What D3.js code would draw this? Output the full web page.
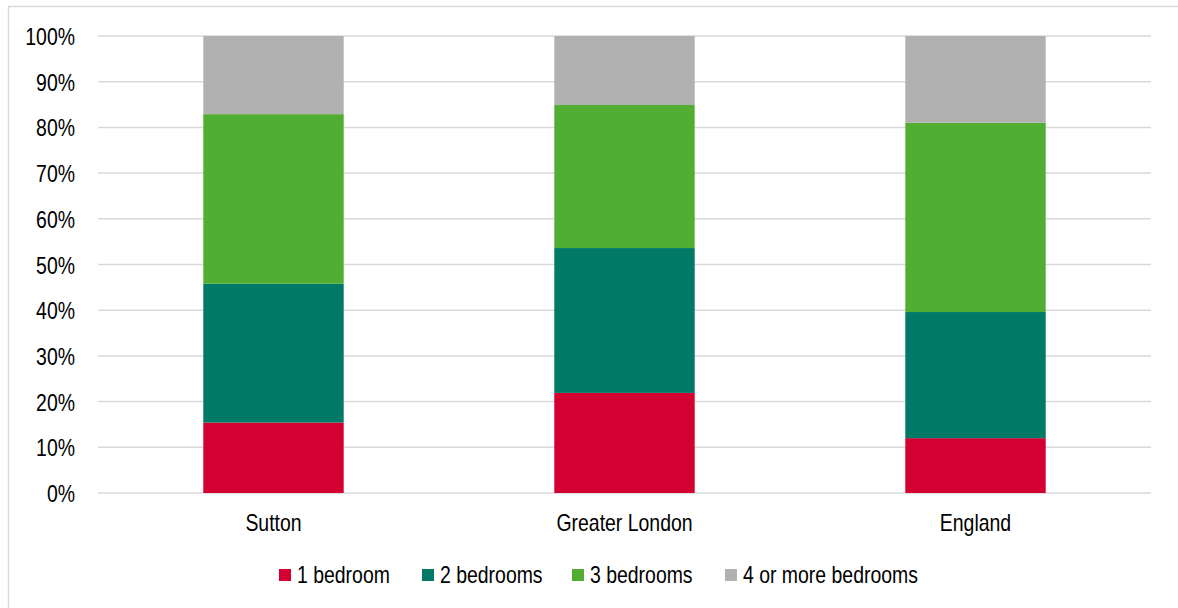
<!DOCTYPE html>
<html><head><meta charset="utf-8">
<script src="https://cdn.jsdelivr.net/npm/d3@7"></script>
<style>
body{margin:0;background:#fff;}
text{font-family:"Liberation Sans",Arial,sans-serif;}
</style></head>
<body><svg id="c" width="1178" height="608"></svg>
<script>
const categories = ["Sutton", "Greater London", "England"];
const seriesNames = ["1 bedroom", "2 bedrooms", "3 bedrooms", "4 or more bedrooms"];
const oneBed = [15.4, 21.9, 12.0];
const twoBed = [30.4, 31.7, 27.6];
const threeBed = [37.1, 31.3, 41.4];
const fourPlus = [17.1, 15.1, 19.0];
const colors = ["#D50032", "#007A66", "#52AE32", "#B1B1B1"];
const yTicks = [0,10,20,30,40,50,60,70,80,90,100];

const svg = d3.select("#c");
svg.append("rect").attr("x",8.5).attr("y",6.5).attr("width",1180).attr("height",620)
  .attr("fill","#fff").attr("stroke","#d9d9d9").attr("stroke-width",1.5);

const x = d3.scaleBand().domain(categories).range([98,1151]).paddingInner(0.6).paddingOuter(0.3);
const y = d3.scaleLinear().domain([0,100]).range([493,36]);

const g = svg.append("g");
g.selectAll("line.grid").data(yTicks).join("line")
  .attr("x1",98).attr("x2",1151).attr("y1",d=>y(d)).attr("y2",d=>y(d))
  .attr("stroke","#d9d9d9").attr("stroke-width",1.5);

const rows = categories.map((c,i)=>({cat:c, v:[oneBed[i],twoBed[i],threeBed[i],fourPlus[i]]}));
const stackData = rows.map(r=>{const o={cat:r.cat}; seriesNames.forEach((s,j)=>o[s]=r.v[j]); return o;});
const stack = d3.stack().keys(seriesNames)(stackData);

stack.forEach((layer,j)=>{
  g.selectAll(null).data(layer).join("rect")
    .attr("x",d=>x(d.data.cat)).attr("width",x.bandwidth())
    .attr("y",d=>y(d[1])).attr("height",d=>y(d[0])-y(d[1]))
    .attr("fill",colors[j]);
});

const fs = 23, sx = 0.845;
function label(parent, px, py, txt, anchor){
  parent.append("text")
    .attr("transform",`translate(${px},${py}) scale(${sx},1)`)
    .attr("dy","0.35em").attr("text-anchor",anchor)
    .attr("font-size",fs).attr("fill","#000").text(txt);
}
// y labels
yTicks.forEach(t=>label(g, 75, y(t)+1, t+"%", "end"));
// x labels
categories.forEach(c=>label(g, x(c)+x.bandwidth()/2, 523, c, "middle"));

// legend
const legX = [279, 422, 572, 725];
const lg = svg.append("g");
seriesNames.forEach((s,j)=>{
  lg.append("rect").attr("x",legX[j]).attr("y",569).attr("width",12).attr("height",12).attr("fill",colors[j]);
  label(lg, legX[j]+18, 575, s, "start");
});
</script></body></html>
